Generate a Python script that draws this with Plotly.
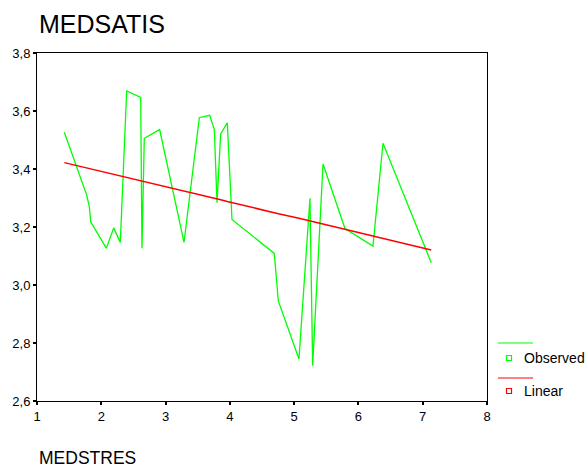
import plotly.graph_objects as go

# Data
medstres = [1.425, 1.773, 1.814, 1.835, 2.078, 2.193, 2.296, 2.395, 2.613, 2.633,
            2.669, 2.908, 3.287, 3.525, 3.686, 3.758, 3.800, 3.857, 3.960, 4.033,
            4.691, 4.754, 5.075, 5.246, 5.288, 5.449, 5.791, 6.226, 6.382, 7.133]
observed = [3.527, 3.310, 3.270, 3.218, 3.127, 3.197, 3.147, 3.669, 3.647, 3.127,
            3.506, 3.536, 3.147, 3.577, 3.585, 3.537, 3.284, 3.521, 3.559, 3.226,
            3.109, 2.945, 2.745, 3.299, 2.722, 3.417, 3.195, 3.134, 3.489, 3.077]
linear = [3.422, 3.404, 3.401, 3.400, 3.387, 3.381, 3.376, 3.371, 3.359, 3.358,
          3.356, 3.344, 3.324, 3.311, 3.303, 3.299, 3.297, 3.294, 3.288, 3.284,
          3.250, 3.246, 3.230, 3.221, 3.218, 3.210, 3.192, 3.169, 3.161, 3.121]

x_ticks = [1, 2, 3, 4, 5, 6, 7, 8]
y_ticks = [2.6, 2.8, 3.0, 3.2, 3.4, 3.6, 3.8]

FONT = "Arial, Liberation Sans, sans-serif"
GREEN = "#00ff00"
RED = "#ff0000"

fig = go.Figure()
fig.add_trace(go.Scatter(x=medstres, y=observed, mode="lines", name="Observed",
                         line=dict(color=GREEN, width=1.3), showlegend=False))
fig.add_trace(go.Scatter(x=medstres, y=linear, mode="lines", name="Linear",
                         line=dict(color=RED, width=1.5), showlegend=False))

axis_common = dict(showgrid=False, zeroline=False, showline=True, linecolor="black",
                   linewidth=1, mirror=True, ticks="outside", ticklen=3, tickwidth=2,
                   tickcolor="black", automargin=False,
                   tickfont=dict(family=FONT, size=13, color="black"))

fig.update_xaxes(range=[1, 8], tickvals=x_ticks, **axis_common)
fig.update_yaxes(range=[2.6, 3.8], tickvals=y_ticks, tickformat=".1f", **axis_common)

W, H = 585, 467
L, R, T, B = 37, 98, 53, 66
pw, ph = W - L - R, H - T - B

def px(xp):
    return (xp - L) / pw

def py(yp):
    return (H - B - yp) / ph

shapes = [
    dict(type="line", xref="paper", yref="paper", x0=px(498), x1=px(533), y0=py(343), y1=py(343),
         line=dict(color=GREEN, width=1.2)),
    dict(type="rect", xref="paper", yref="paper", x0=px(506.5), x1=px(511.5), y0=py(360.5), y1=py(355.5),
         line=dict(color=GREEN, width=1.2)),
    dict(type="line", xref="paper", yref="paper", x0=px(498), x1=px(533), y0=py(378), y1=py(378),
         line=dict(color=RED, width=1.2)),
    dict(type="rect", xref="paper", yref="paper", x0=px(506.5), x1=px(511.5), y0=py(393.5), y1=py(388.5),
         line=dict(color=RED, width=1.2)),
]

annotations = [
    dict(text="MEDSATIS", xref="paper", yref="paper", x=0, y=py(24), xanchor="left", yanchor="middle",
         showarrow=False, font=dict(family=FONT, size=25, color="black")),
    dict(text="MEDSTRES", xref="paper", yref="paper", x=0, y=py(457.5), xanchor="left", yanchor="middle",
         showarrow=False, font=dict(family=FONT, size=17.5, color="black")),
    dict(text="Observed", xref="paper", yref="paper", x=px(522), y=py(358), xanchor="left", yanchor="middle",
         showarrow=False, font=dict(family=FONT, size=14, color="black")),
    dict(text="Linear", xref="paper", yref="paper", x=px(522), y=py(391), xanchor="left", yanchor="middle",
         showarrow=False, font=dict(family=FONT, size=14, color="black")),
]

fig.update_layout(width=W, height=H, margin=dict(l=L, r=R, t=T, b=B, pad=0, autoexpand=False),
                  plot_bgcolor="white", paper_bgcolor="white", separators=",.",
                  font=dict(family=FONT, color="black"), showlegend=False,
                  shapes=shapes, annotations=annotations)

fig.write_html("out.html", config={"displayModeBar": False},
               post_script="document.body.style.margin='0';document.body.style.padding='0';")
